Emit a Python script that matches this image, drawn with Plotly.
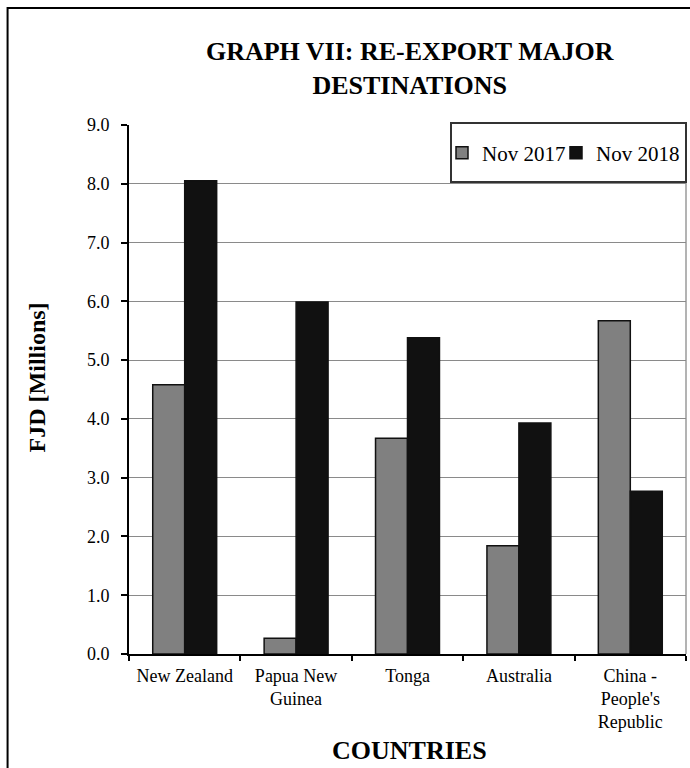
import plotly.graph_objects as go

# Re-export values by destination, FJD millions
countries = [
    "New Zealand",
    "Papua New<br>Guinea",
    "Tonga",
    "Australia",
    "China -<br>People's<br>Republic",
]
nov_2017 = [4.58, 0.27, 3.67, 1.84, 5.67]
nov_2018 = [8.05, 5.99, 5.38, 3.93, 2.77]
y_ticks = [0, 1, 2, 3, 4, 5, 6, 7, 8, 9]

SERIF = "Liberation Serif, Times New Roman, serif"

fig = go.Figure()
fig.add_trace(go.Bar(
    name="Nov 2017", x=countries, y=nov_2017,
    marker=dict(color="#808080", line=dict(color="#111111", width=1.5)),
    legendwidth=69,
))
fig.add_trace(go.Bar(
    name="Nov 2018", x=countries, y=nov_2018,
    marker=dict(color="#111111", line=dict(color="#111111", width=1.5)),
))

fig.update_layout(
    width=690, height=768,
    margin=dict(l=129, r=4, t=125, b=114, autoexpand=False),
    paper_bgcolor="white", plot_bgcolor="white",
    font=dict(family=SERIF, size=18, color="black"),
    barmode="group", bargap=0.426, bargroupgap=0,
    title=dict(
        text="<b>GRAPH VII: RE-EXPORT MAJOR<br>DESTINATIONS</b>",
        font=dict(family=SERIF, size=26, color="black"),
        xref="paper", x=0.504, xanchor="center",
        yref="container", y=1 - 60 / 768, yanchor="top",
    ),
    legend=dict(
        orientation="h",
        xref="paper", x=(442 - 129) / 557, xanchor="left",
        yref="paper", y=(654 - 153) / 529, yanchor="middle",
        bgcolor="rgba(0,0,0,0)", borderwidth=0,
        font=dict(family=SERIF, size=21, color="black"),
        traceorder="normal",
    ),
    showlegend=True,
)

fig.update_xaxes(
    showline=True, linecolor="black", linewidth=2,
    ticks="outside", tickson="boundaries", ticklen=5, tickwidth=1.5, tickcolor="black",
    ticklabelstandoff=4,
    tickfont=dict(family=SERIF, size=18, color="black"),
    showgrid=False,
)
fig.update_yaxes(
    range=[0, 9], tickvals=y_ticks, tickformat=".1f",
    showline=True, linecolor="black", linewidth=2,
    ticks="outside", ticklen=6, tickwidth=1.5, tickcolor="black",
    ticklabelstandoff=8,
    tickfont=dict(family=SERIF, size=18, color="black"),
    showgrid=True, gridcolor="#8a8a8a", gridwidth=1.3,
    zeroline=False,
)

# Axis titles
fig.add_annotation(
    text="<b>FJD [Millions]</b>", textangle=-90,
    xref="paper", yref="paper", x=-0.165, y=0.523,
    xanchor="center", yanchor="middle", showarrow=False,
    font=dict(family=SERIF, size=24, color="black"),
)
fig.add_annotation(
    text="<b>COUNTRIES</b>",
    xref="paper", yref="paper", x=0.504, y=-0.183,
    xanchor="center", yanchor="middle", showarrow=False,
    font=dict(family=SERIF, size=26, color="black"),
)

# Plot-area right edge, legend frame and outer chart frame
fig.add_shape(type="line", xref="paper", yref="paper", x0=1, x1=1, y0=0, y1=1,
              line=dict(color="#8a8a8a", width=1.3))
fig.add_shape(type="rect", xref="paper", yref="paper",
              x0=(451 - 129) / 557, x1=1.0,
              y0=(654 - 182) / 529, y1=(654 - 123) / 529,
              fillcolor="white", line=dict(color="#333333", width=2), layer="above")
fig.add_shape(type="rect", xref="paper", yref="paper",
              x0=-0.218, x1=1.05, y0=-0.3, y1=1.2214,
              line=dict(color="black", width=2), layer="below")

fig.write_html("out.html")
